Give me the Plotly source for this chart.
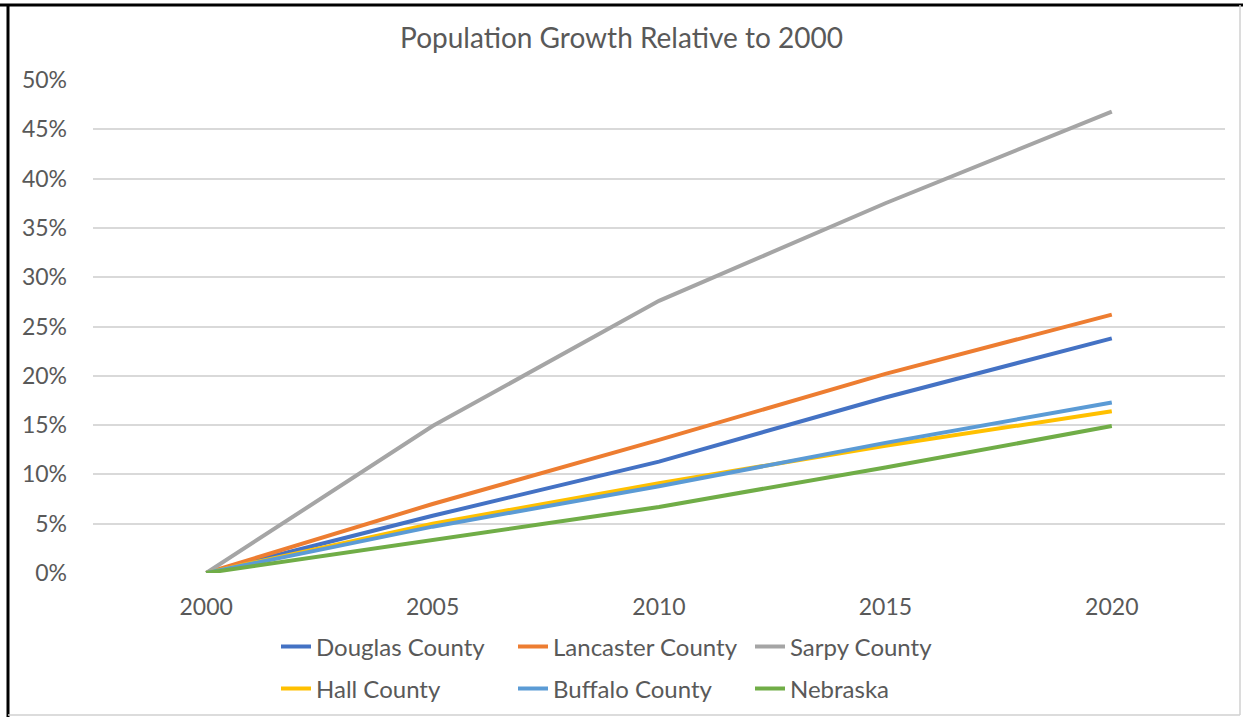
import plotly.graph_objects as go

years = ["2000", "2005", "2010", "2015", "2020"]
douglas = [0.0, 5.8, 11.3, 17.8, 23.8]
lancaster = [0.0, 7.0, 13.5, 20.2, 26.2]
sarpy = [0.0, 14.9, 27.6, 37.5, 46.8]
hall = [0.0, 5.0, 9.1, 12.9, 16.4]
buffalo = [0.0, 4.7, 8.8, 13.2, 17.3]
nebraska = [0.0, 3.3, 6.7, 10.7, 14.9]

series = [
    ("Douglas County", douglas, "#4472C4", "legend"),
    ("Lancaster County", lancaster, "#ED7D31", "legend"),
    ("Sarpy County", sarpy, "#A5A5A5", "legend"),
    ("Hall County", hall, "#FFC000", "legend2"),
    ("Buffalo County", buffalo, "#5B9BD5", "legend2"),
    ("Nebraska", nebraska, "#70AD47", "legend2"),
]

FONT = "Lato, 'Open Sans', sans-serif"
W, H = 1243, 717
L, R, T, B = 93, 18, 80, 144
PW, PH = W - L - R, H - T - B


def px(x):
    return (x - L) / PW


def py(y):
    return (H - B - y) / PH


fig = go.Figure()
for name, vals, color, lg in series:
    fig.add_trace(go.Scatter(
        x=years, y=[v / 100 for v in vals], mode="lines", name=name,
        line=dict(color=color, width=4), legend=lg,
    ))

legend_common = dict(
    orientation="h", xanchor="left", yanchor="middle",
    font=dict(family=FONT, size=24, color="#595959"),
    entrywidth=192, entrywidthmode="pixels",
    bgcolor="rgba(0,0,0,0)", traceorder="normal",
    tracegroupgap=0, itemclick=False,
)

fig.update_layout(
    width=W, height=H,
    margin=dict(l=L, r=R, t=T, b=B, autoexpand=False),
    paper_bgcolor="white", plot_bgcolor="white",
    title=dict(text="Population Growth Relative to 2000", x=0.5, xanchor="center",
               y=1 - 38 / H, yanchor="middle",
               font=dict(family=FONT, size=28, color="#595959")),
    xaxis=dict(type="category", range=[-0.5, 4.5], showgrid=False, showline=False,
               zeroline=False, ticks="", tickfont=dict(family=FONT, size=23, color="#595959"),
               ticklabelstandoff=18, automargin=False),
    yaxis=dict(range=[0, 0.5], dtick=0.05, tickformat=".0%", showgrid=True,
               gridcolor="#D9D9D9", gridwidth=1.5, zeroline=False, showline=False,
               ticks="", tickfont=dict(family=FONT, size=23, color="#595959"),
               ticklabelstandoff=25, automargin=False),
    legend=dict(x=px(276), y=py(647), **legend_common),
    legend2=dict(x=px(276), y=py(689), **legend_common),
    showlegend=True,
)

# chart frame
fig.add_shape(type="line", xref="paper", yref="paper", x0=px(0), x1=px(W), y0=py(5), y1=py(5),
              line=dict(color="black", width=3))
fig.add_shape(type="line", xref="paper", yref="paper", x0=px(8), x1=px(8), y0=py(5), y1=py(H),
              line=dict(color="black", width=3))
fig.add_shape(type="line", xref="paper", yref="paper", x0=px(1240), x1=px(1240), y0=py(5), y1=py(715),
              line=dict(color="#D0D0D0", width=1.5))
fig.add_shape(type="line", xref="paper", yref="paper", x0=px(8), x1=px(1240), y0=py(715), y1=py(715),
              line=dict(color="#D0D0D0", width=1.5))

fig.write_html("out.html")
